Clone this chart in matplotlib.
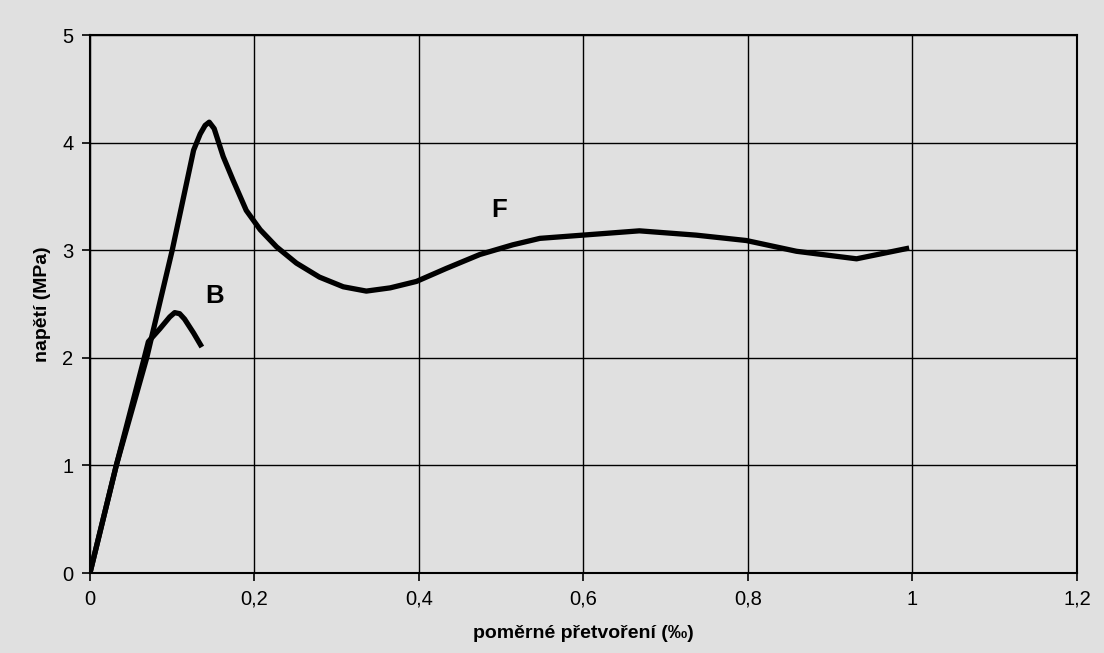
import matplotlib
matplotlib.use("Agg")
from matplotlib import pyplot as plt
from matplotlib.ticker import FuncFormatter

## Données lues sur le graphique
# courbe F
f_x = [0, 0.032, 0.069, 0.100, 0.126, 0.134, 0.140, 0.145, 0.151, 0.162, 0.174,
       0.190, 0.207, 0.227, 0.251, 0.279, 0.308, 0.336, 0.365, 0.397, 0.433,
       0.474, 0.514, 0.547, 0.599, 0.668, 0.737, 0.798, 0.859, 0.932, 0.996]
f_y = [0, 1.00, 2.00, 3.00, 3.93, 4.08, 4.16, 4.19, 4.13, 3.87, 3.65,
       3.37, 3.19, 3.03, 2.88, 2.75, 2.66, 2.62, 2.65, 2.71, 2.83,
       2.96, 3.05, 3.11, 3.14, 3.18, 3.14, 3.09, 2.99, 2.92, 3.02]
# courbe B
b_x = [0, 0.032, 0.066, 0.071, 0.085, 0.097, 0.103, 0.109, 0.115, 0.126, 0.136]
b_y = [0, 1.00, 2.00, 2.15, 2.27, 2.38, 2.42, 2.41, 2.36, 2.23, 2.10]

x_ticks = [0, 0.2, 0.4, 0.6, 0.8, 1.0, 1.2]
y_ticks = [0, 1, 2, 3, 4, 5]

## Police
plt.rcParams["font.family"] = "sans-serif"
plt.rcParams["font.sans-serif"] = ["Liberation Sans", "DejaVu Sans"]

fond = "#e0e0e0"

f = plt.figure(figsize=(11.04, 6.53), dpi=100, facecolor=fond)
ax = f.add_axes([0.0815, 0.1225, 0.894, 0.8239])
ax.set_facecolor(fond)

for xs, ys in ((f_x, f_y), (b_x, b_y)):
	ax.plot(xs, ys, color="black", lw=3.8, solid_capstyle="butt", solid_joinstyle="round", zorder=3)

ax.text(0.152, 2.57, "B", fontsize=18.5, fontweight="bold", ha="center", va="center")
ax.text(0.498, 3.37, "F", fontsize=18.5, fontweight="bold", ha="center", va="center")

ax.set_xlim(0, 1.2)
ax.set_ylim(0, 5)
ax.set_xticks(x_ticks)
ax.set_yticks(y_ticks)
ax.xaxis.set_major_formatter(FuncFormatter(lambda v, p: ("%g" % v).replace(".", ",")))
ax.grid(True, color="black", lw=1.0)
ax.set_axisbelow(True)
for s in ax.spines.values():
	s.set_linewidth(1.5)
	s.set_color("black")
ax.tick_params(direction="out", length=6, width=1.2, labelsize=14.5, colors="black", pad=6)

ax.set_xlabel("poměrné přetvoření (‰)", fontsize=14, fontweight="bold", labelpad=12)
ax.set_ylabel("napětí (MPa)", fontsize=14, fontweight="bold", labelpad=8)

plt.savefig("out.png", dpi=100, facecolor=fond)
plt.close(f)
